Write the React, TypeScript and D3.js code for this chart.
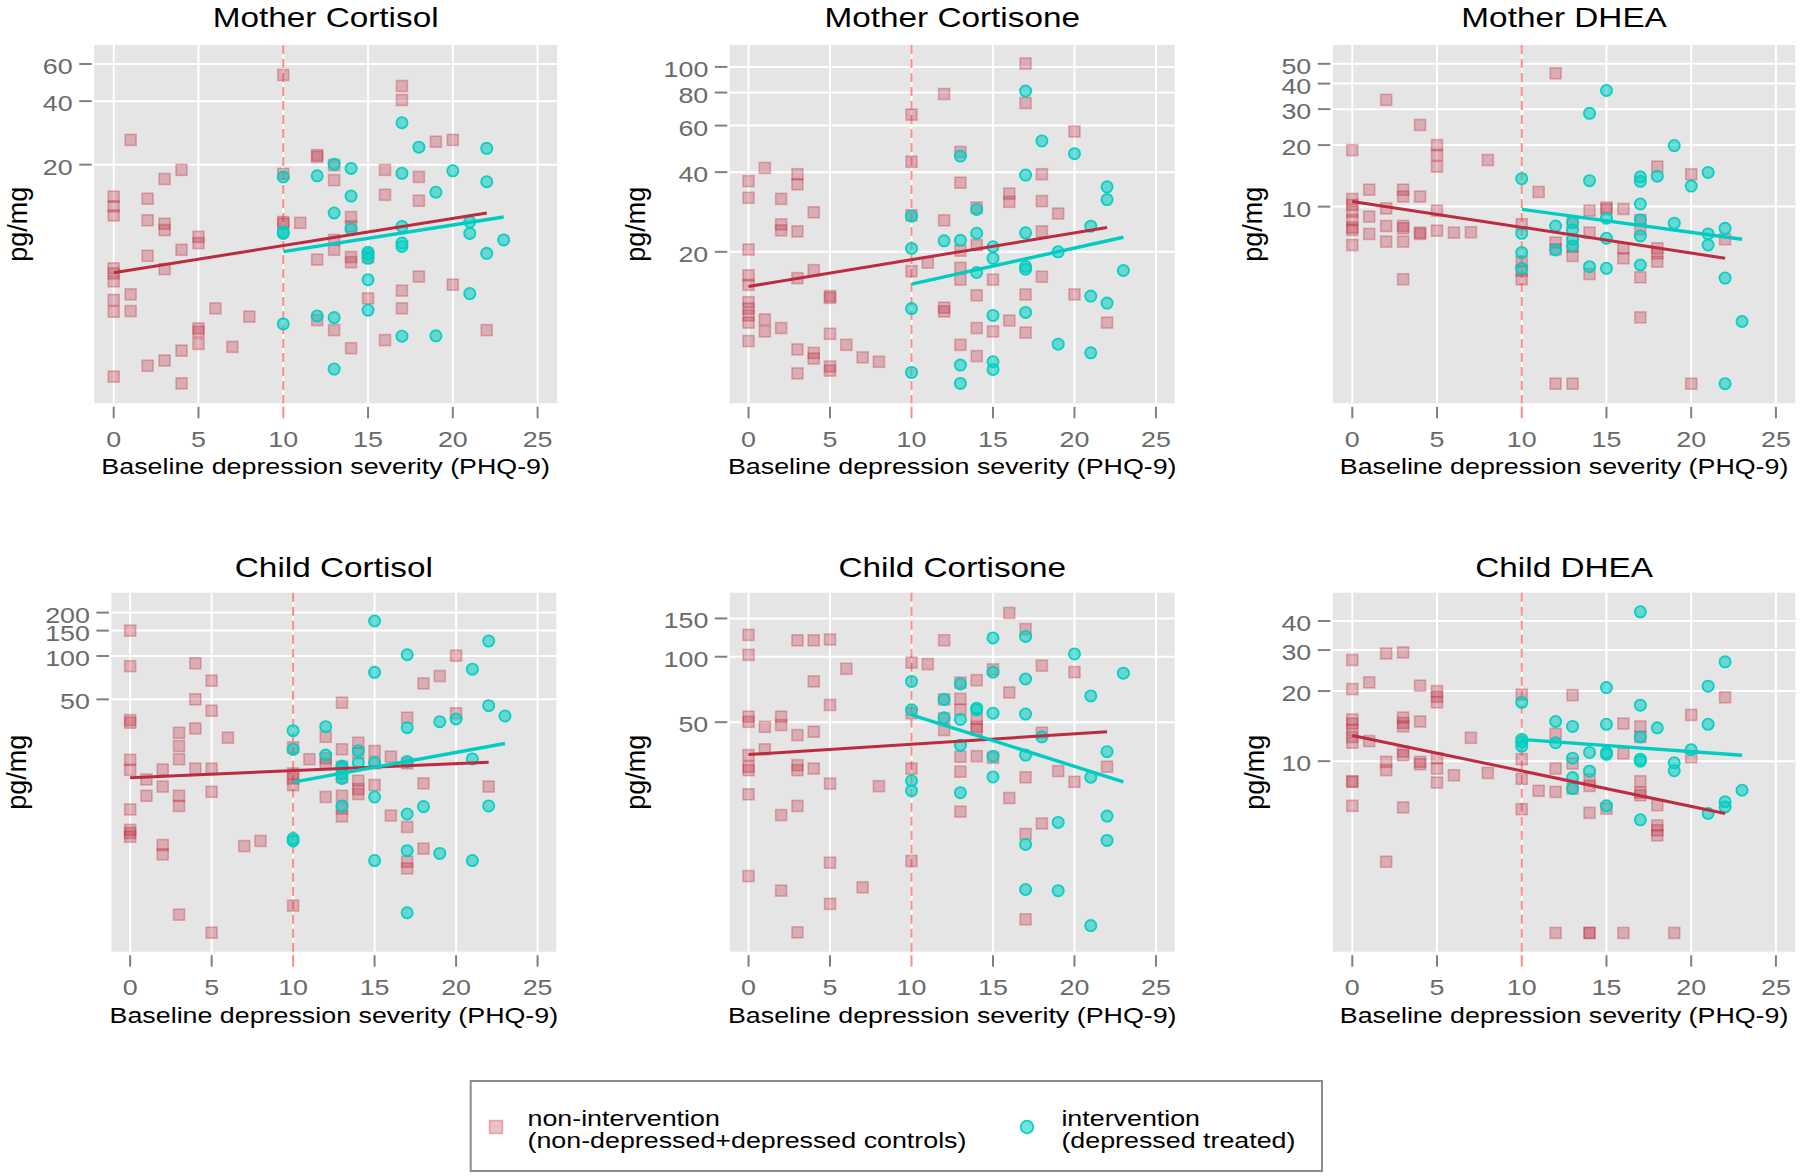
import React from 'react';
import * as d3 from 'd3';

// ---------- shared axis values ----------
const X_TICKS = [0, 5, 10, 15, 20, 25];
const X_DOMAIN = [-1.15, 26.15];
const CUTOFF = 10;
const X_TITLE = 'Baseline depression severity (PHQ-9)';
const Y_TITLE = 'pg/mg';

// ---------- Mother Cortisol ----------
const motherCortisolNonX = [0,0,0,0,0,0,0,0,0, 1,1,1, 2,2,2,2, 3,3,3,3,3, 4,4,4,4, 5,5,5,5,5, 6, 7, 8, 10,10,10,10, 11, 12,12,12,12, 13,13,13,13,13, 14,14,14,14,14, 15,15, 16,16,16, 17,17,17,17, 18,18,18, 19, 20,20, 22];
const motherCortisolNonY = [14.1,12.7,11.5,6.45,6.1,5.6,4.57,4.02,1.98, 26.2,4.86,4.05, 13.8,10.9,7.4,2.23, 17.1,10.5,9.8,6.4,2.36, 18.9,7.9,2.63,1.84, 9.1,8.5,3.35,3.23,2.83, 4.17, 2.74, 3.81, 53.2,18.1,10.7,10.5, 10.6, 22.2,21.8,7.1,3.67, 19.9,16.9,8.8,7.9,3.29, 11.3,10.2,7.3,6.9,2.7, 7.3,4.65, 18.9,14.4,2.95, 47.2,40.5,5.06,4.17, 17.5,13.5,5.9, 25.7, 26.2,5.4, 3.29];
const motherCortisolIntX = [10,10,10,10, 12,12, 13,13,13,13, 14,14,14, 15,15,15,15,15, 17,17,17,17,17,17, 18, 19,19, 20, 21,21,21, 22,22,22, 23];
const motherCortisolIntY = [17.5,9.6,9.45,3.52, 17.7,3.84, 20.1,11.8,3.77,2.15, 19.2,14.2,9.9, 7.7,7.5,7.2,5.7,4.09, 31.6,18.2,10.2,8.5,8.2,3.08, 24.2, 14.8,3.09, 18.7, 10.7,9.45,4.9, 23.9,16.6,7.6, 8.8];
const motherCortisolFitNon = [[0, 6.15], [22, 11.8]];
const motherCortisolFitInt = [[10, 7.74], [23, 11.3]];
const motherCortisolYTicks = [20, 40, 60];

// ---------- Mother Cortisone ----------
const motherCortisoneNonX = [0,0,0,0,0,0,0,0,0,0, 1,1,1, 2,2,2,2, 3,3,3,3,3,3, 4,4,4,4, 5,5,5,5,5, 6, 7, 8, 10,10,10,10, 11, 12,12,12,12, 13,13,13,13,13,13, 14,14,14,14,14, 15,15, 16,16,16, 17,17,17,17, 18,18,18,18, 19, 20,20, 22];
const motherCortisoneNonY = [37,32,20.4,16.3,15,12.9,12.2,11.5,10.8,9.2, 41.5,11.1,10, 31.7,25.4,24.1,10.3, 39.3,36,23.9,15.9,8.55,6.94, 28.2,17.05,8.3,7.9, 13.6,13.4,9.8,7.37,7.11, 8.9, 7.98, 7.68, 66,43.8,27.5,16.9, 18.2, 79,26.3,12.3,11.9, 47.7,36.5,20.2,17.4,15.7,8.9, 29.4,21.2,13.7,10.3,8.07, 15.7,10, 33.2,30.9,11, 103,73,13.8,9.9, 39.3,31.1,23.9,16.1, 27.9, 57,13.8, 10.8];
const motherCortisoneIntX = [10,10,10,10, 12, 13,13,13,13, 14,14,14, 15,15,15,15,15, 17,17,17,17,17,17, 18, 19,19, 20, 21,21,21, 22,22,22, 23];
const motherCortisoneIntY = [27.3,20.6,12.2,7, 22, 46,22.1,7.46,6.36, 28.9,23.5,16.7, 20.9,18.9,11.5,7.68,7.18, 81,39,23.6,17.6,17.2,11.8, 52.5, 20,8.95, 47, 25,13.6,8.3, 35.2,31.5,12.8, 17];
const motherCortisoneFitNon = [[0, 14.8], [22, 24.7]];
const motherCortisoneFitInt = [[10, 15.1], [23, 22.7]];
const motherCortisoneYTicks = [20, 40, 60, 80, 100];

// ---------- Mother DHEA ----------
const motherDheaNonX = [0,0,0,0,0,0,0,0, 1,1,1, 2,2,2,2, 3,3,3,3,3,3, 4,4,4,4, 5,5,5,5,5, 6, 7, 8, 10,10,10,10, 11, 12,12,12,12, 13,13,13,13, 14,14,14, 15,15, 16,16,16, 17,17,17,17, 18,18,18,18, 20,20, 22];
const motherDheaNonY = [18.9,10.9,10.2,9.45,8.6,7.9,7.69,6.49, 12.1,8.94,7.35, 33.3,9.8,8.04,6.74, 12.1,11.2,8.04,7.83,6.74,4.41, 25.1,11.2,7.46,7.35, 20,17.9,15.7,9.56,7.63, 7.46, 7.49, 16.9, 8.2,5.38,4.86,4.41, 11.8, 44.9,6.67,6.18,1.36, 8.35,6.37,5.74,1.36, 9.56,7.46,4.68, 9.9,9.7, 9.74,6.25,5.59, 8.6,7.74,4.51,2.87, 15.7,6.25,5.91,5.38, 14.4,1.36, 6.92];
const motherDheaIntX = [10,10,10,10, 12,12, 13,13,13,13, 14,14,14, 15,15,15,15, 17,17,17,17,17,17, 18, 19,19, 20, 21,21,21, 22,22,22, 23];
const motherDheaIntY = [13.7,7.4,5.96,4.99, 8.04,6.14, 8.35,7.69,6.92,6.42, 28.6,13.4,5.08, 37,8.77,7,4.99, 14,13.3,10.3,8.6,7.19,5.18, 14.1, 19.9,8.3, 12.6, 14.7,7.35,6.49, 7.83,4.47,1.36, 2.74];
const motherDheaFitNon = [[0, 10.6], [22, 5.59]];
const motherDheaFitInt = [[10, 9.7], [23, 6.92]];
const motherDheaYTicks = [10, 20, 30, 40, 50];

// ---------- Child Cortisol ----------
const childCortisolNonX = [0,0,0,0,0,0,0,0,0,0, 1,1, 2,2,2,2, 3,3,3,3,3,3, 4,4,4,4, 5,5,5,5,5, 6, 7, 8, 10,10,10,10,10, 11, 12,12,12,12, 13,13,13,13,13,13,13, 14,14,14,14,14, 15,15,15, 16,16, 17,17,17,17,17, 18,18,18, 19, 20,20, 22];
const childCortisolNonY = [150,85,35.9,34.4,19,16.2,8.6,6.2,5.9,5.56, 13.9,10.7, 16.3,12.4,4.87,4.2, 29.3,23.7,19.2,10.7,9.1,1.6, 89,50,31.4,16.5, 67.4,41.7,16.5,11.4,1.2, 27.1, 4.79, 5.2, 23.2,15.3,14.1,12.7,1.85, 19.2, 27.5,19.5,17.8,10.5, 47.4,22.5,17,14.4,10.7,8.75,7.7, 25,21.1,13.6,11.9,11, 21.9,18,12.7, 20,7.8, 37.3,18,6.5,3.73,3.35, 64.5,13.05,4.6, 72.6, 100.5,40, 12.4];
const childCortisolIntX = [10,10,10,10, 12,12, 13,13,13,13,13, 14,14, 15,15,15,15,15, 17,17,17,17,17,17, 18, 19,19, 20, 21,21,21, 22,22,22, 23];
const childCortisolIntY = [30.3,22.5,5.4,5.2, 32.3,20.5, 17.2,16.6,15.2,14.1,9.1, 22,18.2, 175,77,18.2,10.5,3.8, 102,31.8,18.5,8,4.45,1.65, 9, 35,4.26, 36.5, 81,19.3,3.8, 127,45.2,9.1, 38.3];
const childCortisolFitNon = [[0, 14.3], [22, 18.3]];
const childCortisolFitInt = [[10, 13.3], [23, 24.7]];
const childCortisolYTicks = [50, 100, 150, 200];

// ---------- Child Cortisone ----------
const childCortisoneNonX = [0,0,0,0,0,0,0,0,0, 1,1, 2,2,2,2, 3,3,3,3,3,3, 4,4,4,4, 5,5,5,5,5, 6, 7, 8, 10,10,10,10, 11, 12,12,12,12, 13,13,13,13,13,13, 14,14,14,14,14, 15,15, 16,16,16, 17,17,17,17, 18,18,18, 19, 20,20, 22];
const childCortisoneNonY = [126,102,53,50.2,35.3,31.2,30.1,23.3,9.8, 47.6,37.5, 53,48.5,18.7,8.4, 119,43.6,31.7,30.1,20.6,5.4, 119,77,45.2,30.6, 120,60,26.1,11.3,7.3, 88, 8.7, 25.4, 94,55,30.6,11.5, 92.5, 119,63.6,52,46, 76,64,57,34.7,29.6,19.4, 78,52,47.6,46.3,34.9, 87.5,34.3, 159,68.5,22.4, 134,27.9,15.3,6.2, 91,44.7,17.1, 29.8, 85,26.6, 31.2];
const childCortisoneIntX = [10,10,10,10, 12,12, 13,13,13,13, 14,14, 15,15,15,15,15, 17,17,17,17,17,17, 18, 19,19, 20, 21,21,21, 22,22,22, 23];
const childCortisoneIntY = [77,57,26.9,24.2, 63.6,52.4, 75,51.5,39.2,23.7, 58,57, 122,85,55,34.9,28, 124,79,54.5,35.3,13.7,8.5, 42.8, 17.3,8.4, 103, 66,27.9,5.8, 36.6,18.5,14.3, 84];
const childCortisoneFitNon = [[0, 35.5], [22, 45.2]];
const childCortisoneFitInt = [[10, 54], [23, 26.6]];
const childCortisoneYTicks = [50, 100, 150];

// ---------- Child DHEA ----------
const childDheaNonX = [0,0,0,0,0,0,0,0,0,0, 1,1, 2,2,2,2, 3,3,3,3,3,3,3, 4,4,4,4, 5,5,5,5,5,5, 6, 7, 8, 10,10,10,10, 11, 12,12,12,12, 13,13,13, 14,14,14,14,14, 15, 16,16,16, 17,17,17,17,17, 18,18,18,18, 19, 20,20, 22];
const childDheaNonY = [27.2,20.4,15.1,14.5,13.6,12.7,12,8.2,8.15,6.43, 21.8,12.2, 29,9.93,9.15,3.7, 29.3,15.4,14.6,14.1,11,10.6,6.33, 21.1,14.8,9.93,9.7, 20,18.9,17.9,10.3,9.3,8.1, 8.7, 12.6, 8.9, 19.3,10.2,8.4,6.22, 7.46, 13.1,9.3,7.38,1.83, 19.2,9.77,7.63, 8.35,7.83,6,1.83,1.83, 6.26, 14.5,10.8,1.83, 14.1,12.7,8.2,7.33,7.14, 6.47,5.3,5.05,4.8, 1.83, 15.8,10.4, 18.8];
const childDheaIntX = [10,10,10,10, 12,12, 13,13,13,13, 14,14, 15,15,15,15,15, 17,17,17,17,17,17, 18, 19,19, 20, 21,21,21, 22,22,22, 23];
const childDheaIntY = [17.9,12.4,12.1,11.6, 14.8,12, 14.1,10.3,8.5,7.63, 10.9,9.06, 20.7,14.4,10.9,10.7,6.43, 43.8,17.4,12.7,10.2,10,5.6, 13.9, 9.84,9.1, 11.2, 21,14.4,5.96, 26.7,6.69,6.36, 7.5];
const childDheaFitNon = [[0, 12.9], [22, 5.96]];
const childDheaFitInt = [[10, 12.4], [23, 10.6]];
const childDheaYTicks = [10, 20, 30, 40];

// ---------- legend ----------
const LEGEND_NON = ['non-intervention', '(non-depressed+depressed controls)'];
const LEGEND_INT = ['intervention', '(depressed treated)'];

// ---------- styling ----------
const RED = '#bd2b3e';
const TEAL = '#00cdc1';
const VLINE = '#fa8e84';
const BG = '#e5e5e5';
const TICK_TEXT = '#6a6a6a';
const TICK_MARK = '#808080';
const FONT = '"Liberation Sans", Arial, Helvetica, sans-serif';
const SX = 1.22; // horizontal stretch of the original lettering

const zip = (xs: number[], ys: number[]) => xs.map((v, i) => [v, ys[i]]);

const ROW1 = { top: 45, bottom: 403.3, titleY: 26.5 };
const ROW2 = { top: 592.7, bottom: 951.7, titleY: 577 };
const COL_A = { left: 94.2, right: 557.1 };
const COL_A2 = { left: 111.4, right: 556.3 };
const COL_B = { left: 729.8, right: 1174.7 };
const COL_C = { left: 1332.8, right: 1795.4 };

const panels = [
  { title: 'Mother Cortisol', non: zip(motherCortisolNonX, motherCortisolNonY), int: zip(motherCortisolIntX, motherCortisolIntY), fitNon: motherCortisolFitNon, fitInt: motherCortisolFitInt, yTicks: motherCortisolYTicks, yDomain: [1.48, 73.8], ...COL_A, ...ROW1, yTitleX: 26.5 },
  { title: 'Mother Cortisone', non: zip(motherCortisoneNonX, motherCortisoneNonY), int: zip(motherCortisoneIntX, motherCortisoneIntY), fitNon: motherCortisoneFitNon, fitInt: motherCortisoneFitInt, yTicks: motherCortisoneYTicks, yDomain: [5.35, 121], ...COL_B, ...ROW1, yTitleX: 645 },
  { title: 'Mother DHEA', non: zip(motherDheaNonX, motherDheaNonY), int: zip(motherDheaIntX, motherDheaIntY), fitNon: motherDheaFitNon, fitInt: motherDheaFitInt, yTicks: motherDheaYTicks, yDomain: [1.09, 61.8], ...COL_C, ...ROW1, yTitleX: 1261.5 },
  { title: 'Child Cortisol', non: zip(childCortisolNonX, childCortisolNonY), int: zip(childCortisolIntX, childCortisolIntY), fitNon: childCortisolFitNon, fitInt: childCortisolFitInt, yTicks: childCortisolYTicks, yDomain: [0.885, 275], ...COL_A2, ...ROW2, yTitleX: 25.5 },
  { title: 'Child Cortisone', non: zip(childCortisoneNonX, childCortisoneNonY), int: zip(childCortisoneIntX, childCortisoneIntY), fitNon: childCortisoneFitNon, fitInt: childCortisoneFitInt, yTicks: childCortisoneYTicks, yDomain: [4.4, 197], ...COL_B, ...ROW2, yTitleX: 645 },
  { title: 'Child DHEA', non: zip(childDheaNonX, childDheaNonY), int: zip(childDheaIntX, childDheaIntY), fitNon: childDheaFitNon, fitInt: childDheaFitInt, yTicks: childDheaYTicks, yDomain: [1.52, 52.9], ...COL_C, ...ROW2, yTitleX: 1263.5 },
];

function T({ x, y, size, anchor = 'middle', fill = '#000', sx = SX, children }: any) {
  return (
    <text transform={`translate(${x},${y}) scale(${sx},1)`} fontSize={size} textAnchor={anchor} fill={fill} fontFamily={FONT}>
      {children}
    </text>
  );
}

function Square({ cx, cy, s = 11 }: any) {
  return <rect x={cx - s / 2} y={cy - s / 2} width={s} height={s} fill={RED} fillOpacity={0.3} stroke={RED} strokeOpacity={0.32} strokeWidth={1.6} />;
}
function Dot({ cx, cy, r = 5.6 }: any) {
  return <circle cx={cx} cy={cy} r={r} fill={TEAL} fillOpacity={0.55} stroke={TEAL} strokeOpacity={0.95} strokeWidth={1.8} />;
}

function Panel({ p }: any) {
  const x = d3.scaleLinear().domain(X_DOMAIN).range([p.left, p.right]);
  const y = d3.scaleLog().domain(p.yDomain).range([p.bottom, p.top]);
  const line = d3.line<number[]>().x((d) => x(d[0])).y((d) => y(d[1]));
  const cx = (p.left + p.right) / 2;
  const cy = (p.top + p.bottom) / 2;
  return (
    <g>
      <T x={cx} y={p.titleY} size={28} sx={1.19}>{p.title}</T>
      <rect x={p.left} y={p.top} width={p.right - p.left} height={p.bottom - p.top} fill={BG} />
      {X_TICKS.map((t) => (
        <line key={'gx' + t} x1={x(t)} x2={x(t)} y1={p.top} y2={p.bottom} stroke="#fff" strokeWidth={2} />
      ))}
      {p.yTicks.map((t: number) => (
        <line key={'gy' + t} x1={p.left} x2={p.right} y1={y(t)} y2={y(t)} stroke="#fff" strokeWidth={2} />
      ))}
      <line x1={x(CUTOFF)} x2={x(CUTOFF)} y1={p.top} y2={p.bottom} stroke={VLINE} strokeWidth={2} strokeDasharray="9,5" />
      {p.non.map((d: number[], i: number) => (
        <Square key={'n' + i} cx={x(d[0])} cy={y(d[1])} />
      ))}
      {p.int.map((d: number[], i: number) => (
        <Dot key={'i' + i} cx={x(d[0])} cy={y(d[1])} />
      ))}
      <path d={line(p.fitNon) || ''} fill="none" stroke={RED} strokeWidth={3} />
      <path d={line(p.fitInt) || ''} fill="none" stroke={TEAL} strokeWidth={3.4} />
      {/* x axis */}
      {X_TICKS.map((t) => (
        <g key={'xt' + t}>
          <line x1={x(t)} x2={x(t)} y1={p.bottom + 3.5} y2={p.bottom + 15} stroke={t === CUTOFF ? VLINE : TICK_MARK} strokeWidth={2} />
          <T x={x(t)} y={p.bottom + 43.3} size={22} fill={TICK_TEXT}>{String(t)}</T>
        </g>
      ))}
      <T x={cx} y={p.bottom + 71} size={22}>{X_TITLE}</T>
      {/* y axis */}
      {p.yTicks.map((t: number) => (
        <g key={'yt' + t}>
          <line x1={p.left - 15} x2={p.left - 2.5} y1={y(t)} y2={y(t)} stroke={TICK_MARK} strokeWidth={2} />
          <T x={p.left - 21.5} y={y(t) + 10} size={22} anchor="end" fill={TICK_TEXT}>{String(t)}</T>
        </g>
      ))}
      <text transform={`translate(${p.yTitleX},${cy}) rotate(-90)`} fontSize={27} textAnchor="middle" fontFamily={FONT} fill="#000">
        {Y_TITLE}
      </text>
    </g>
  );
}

function Legend() {
  const bx = 470.7, by = 1081, bw = 851.3, bh = 90;
  return (
    <g>
      <rect x={bx} y={by} width={bw} height={bh} fill="#fff" stroke="#8c8c8c" strokeWidth={2} />
      <Square cx={496} cy={1127} s={13} />
      <T x={527.5} y={1126} size={22} anchor="start">{LEGEND_NON[0]}</T>
      <T x={527.5} y={1147.5} size={22} anchor="start">{LEGEND_NON[1]}</T>
      <Dot cx={1027} cy={1127} r={6.3} />
      <T x={1061.4} y={1126} size={22} anchor="start">{LEGEND_INT[0]}</T>
      <T x={1061.4} y={1147.5} size={22} anchor="start">{LEGEND_INT[1]}</T>
    </g>
  );
}

export default function App() {
  return (
    <svg width={1800} height={1176} viewBox="0 0 1800 1176" style={{ position: 'absolute', left: 0, top: 0, display: 'block', background: '#fff' }}>
      <rect x={0} y={0} width={1800} height={1176} fill="#fff" />
      {panels.map((p) => (
        <Panel key={p.title} p={p} />
      ))}
      <Legend />
    </svg>
  );
}
